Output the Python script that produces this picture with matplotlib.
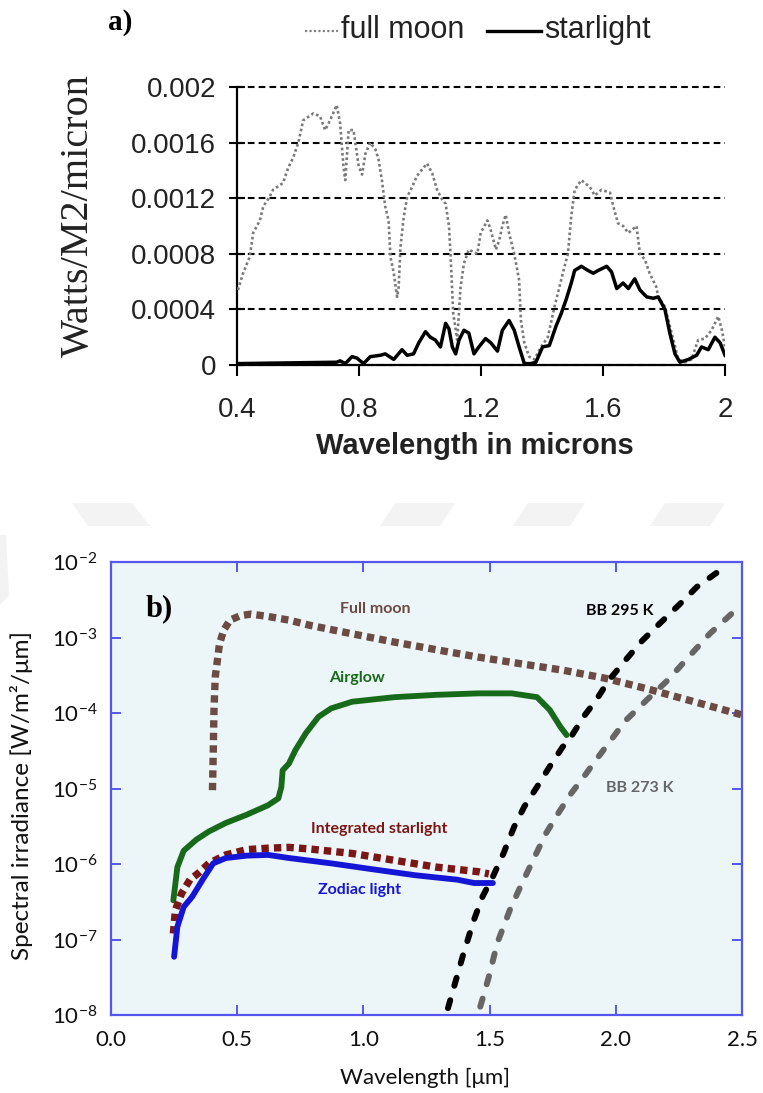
import matplotlib
matplotlib.use("Agg")
import matplotlib.pyplot as plt
from matplotlib.lines import Line2D
from matplotlib.patches import Polygon
from matplotlib.ticker import NullLocator, FixedLocator, FixedFormatter
import numpy as np

# ---------------- data: panel a ----------------
moon_a_x = [0.403, 0.42, 0.442, 0.453, 0.475, 0.486, 0.507, 0.518, 0.551, 0.568, 0.584, 0.601, 0.617,
            0.65, 0.672, 0.689, 0.705, 0.727, 0.738, 0.749, 0.755, 0.766, 0.782, 0.799, 0.81, 0.821,
            0.837, 0.854, 0.864, 0.875, 0.886, 0.897, 0.903, 0.914, 0.925, 0.93, 0.936, 0.947, 0.958,
            0.974, 0.99, 1.023, 1.04, 1.056, 1.073, 1.084, 1.095, 1.1, 1.109, 1.122, 1.133, 1.144,
            1.16, 1.188, 1.199, 1.221, 1.232, 1.249, 1.26, 1.27, 1.281, 1.292, 1.309, 1.325, 1.331,
            1.342, 1.358, 1.375, 1.397, 1.419, 1.441, 1.457, 1.474, 1.485, 1.496, 1.507, 1.529, 1.557,
            1.573, 1.595, 1.623, 1.634, 1.649, 1.666, 1.683, 1.71, 1.721, 1.737, 1.753, 1.775, 1.781,
            1.803, 1.825, 1.847, 1.869, 1.89, 1.912, 1.934, 1.956, 1.978, 1.99, 2.0]
moon_a_y = [0.00054, 0.00066, 0.00078, 0.00095, 0.00104, 0.00114, 0.00121, 0.00126, 0.00131, 0.00142,
            0.00149, 0.0016, 0.00176, 0.00181, 0.00179, 0.00169, 0.00176, 0.00187, 0.00174, 0.00143,
            0.00133, 0.00169, 0.00169, 0.00143, 0.00137, 0.00152, 0.0016, 0.00155, 0.00148, 0.00133,
            0.00114, 0.00104, 0.00078, 0.00066, 0.00049, 0.00056, 0.00085, 0.00107, 0.00121, 0.00128,
            0.00136, 0.00145, 0.00138, 0.00126, 0.00119, 0.00116, 0.0010, 0.0008, 0.00037, 0.00018,
            0.00056, 0.00073, 0.00083, 0.0008, 0.00095, 0.00104, 0.00097, 0.00083, 0.0009, 0.0010,
            0.00108, 0.00095, 0.0008, 0.00061, 0.00032, 0.00016, 0.00006, 0.00004, 0.00013, 0.0002,
            0.00042, 0.00056, 0.00071, 0.0008, 0.00107, 0.00126, 0.00133, 0.00128, 0.00122, 0.00126,
            0.00124, 0.00114, 0.00102, 0.0010, 0.00095, 0.0010, 0.0008, 0.00076, 0.00066, 0.00056,
            0.00049, 0.00042, 0.00023, 0.00004, 0.00002, 0.00004, 0.00018, 0.00019, 0.00025, 0.00035,
            0.00025, 0.00013]

star_a_x = [0.4, 0.727, 0.738, 0.755, 0.777, 0.793, 0.815, 0.837, 0.87, 0.886, 0.914, 0.941, 0.958,
            0.979, 0.996, 1.018, 1.034, 1.05, 1.067, 1.084, 1.095, 1.106, 1.117, 1.128, 1.144, 1.16,
            1.177, 1.193, 1.215, 1.232, 1.254, 1.27, 1.292, 1.309, 1.325, 1.342, 1.364, 1.38, 1.402,
            1.424, 1.446, 1.463, 1.479, 1.496, 1.507, 1.529, 1.551, 1.568, 1.584, 1.612, 1.628, 1.645,
            1.666, 1.683, 1.704, 1.721, 1.743, 1.765, 1.781, 1.803, 1.819, 1.836, 1.852, 1.88, 1.907,
            1.923, 1.945, 1.967, 1.984, 2.0]
star_a_y = [0.00001, 0.00002, 0.00003, 0.00001, 0.00006, 0.00005, 0.00001, 0.00006, 0.00007, 0.00008,
            0.00004, 0.00011, 0.00007, 0.00008, 0.00016, 0.00024, 0.0002, 0.00018, 0.00013, 0.0003,
            0.00026, 0.00013, 0.00008, 0.00018, 0.00025, 0.00023, 0.00008, 0.00013, 0.00019, 0.00016,
            0.0001, 0.00025, 0.00032, 0.00025, 0.00013, 0.00001, 0.00001, 0.00002, 0.00013, 0.00014,
            0.00028, 0.00037, 0.00047, 0.00059, 0.00068, 0.00071, 0.00068, 0.00066, 0.00068, 0.00071,
            0.00067, 0.00055, 0.00059, 0.00055, 0.00062, 0.00054, 0.00049, 0.00048, 0.00049, 0.0004,
            0.00023, 0.00008, 0.00002, 0.00004, 0.00007, 0.00013, 0.00011, 0.0002, 0.00016, 0.00007]

a_xticks = [0.4, 0.8, 1.2, 1.6, 2.0]
a_xticklabels = ["0.4", "0.8", "1.2", "1.6", "2"]
a_yticks = [0, 0.0004, 0.0008, 0.0012, 0.0016, 0.002]
a_yticklabels = ["0", "0.0004", "0.0008", "0.0012", "0.0016", "0.002"]

# ---------------- data: panel b ----------------
moon_b_x = [0.402, 0.405, 0.408, 0.413, 0.43, 0.447, 0.472, 0.513, 0.555, 0.622, 0.705, 0.788, 0.955,
            1.122, 1.288, 1.455, 1.622, 1.788, 1.955, 2.122, 2.288, 2.497]
moon_b_y = [9.5e-6, 2.9e-5, 1.1e-4, 3.0e-4, 8.3e-4, 1.26e-3, 1.7e-3, 1.95e-3, 2.04e-3, 1.9e-3, 1.7e-3,
            1.45e-3, 1.12e-3, 8.7e-4, 6.9e-4, 5.5e-4, 4.5e-4, 3.7e-4, 2.9e-4, 2.1e-4, 1.48e-4, 9.5e-5]

airglow_x = [0.247, 0.263, 0.288, 0.338, 0.388, 0.455, 0.538, 0.622, 0.663, 0.675, 0.68, 0.705, 0.73,
             0.772, 0.822, 0.872, 0.955, 1.122, 1.288, 1.455, 1.588, 1.688, 1.738, 1.78, 1.805]
airglow_y = [3.3e-7, 9.1e-7, 1.5e-6, 2.1e-6, 2.7e-6, 3.5e-6, 4.5e-6, 6.0e-6, 7.4e-6, 1.05e-5, 1.74e-5,
             2.14e-5, 3.2e-5, 5.4e-5, 8.9e-5, 1.15e-4, 1.41e-4, 1.62e-4, 1.74e-4, 1.82e-4, 1.82e-4,
             1.62e-4, 1.1e-4, 6.6e-5, 5.1e-5]

istar_x = [0.247, 0.255, 0.28, 0.313, 0.347, 0.388, 0.455, 0.538, 0.622, 0.705, 0.788, 0.955, 1.122,
           1.288, 1.455, 1.497]
istar_y = [1.2e-7, 2.45e-7, 4.1e-7, 6.2e-7, 7.6e-7, 1.02e-6, 1.32e-6, 1.55e-6, 1.62e-6, 1.66e-6,
           1.58e-6, 1.38e-6, 1.12e-6, 9.1e-7, 7.9e-7, 7.4e-7]

zodi_x = [0.25, 0.263, 0.288, 0.322, 0.363, 0.405, 0.455, 0.538, 0.622, 0.705, 0.872, 1.038, 1.205,
          1.372, 1.438, 1.513]
zodi_y = [5.9e-8, 1.48e-7, 2.7e-7, 3.7e-7, 6.2e-7, 1.02e-6, 1.2e-6, 1.29e-6, 1.32e-6, 1.2e-6, 1.02e-6,
          8.5e-7, 7.1e-7, 6.2e-7, 5.6e-7, 5.6e-7]

bb295_x = [1.335, 1.397, 1.438, 1.472, 1.513, 1.555, 1.597, 1.638, 1.688, 1.738, 1.788, 1.822, 1.872,
           1.922, 1.972, 2.038, 2.105, 2.172, 2.255, 2.322, 2.43]
bb295_y = [1.23e-8, 6.6e-8, 1.82e-7, 3.7e-7, 6.8e-7, 1.38e-6, 3.1e-6, 5.8e-6, 1.05e-5, 1.95e-5, 3.5e-5,
           4.8e-5, 8.9e-5, 1.48e-4, 2.7e-4, 5.0e-4, 9.1e-4, 1.51e-3, 2.8e-3, 4.7e-3, 8.5e-3]

bb273_x = [1.463, 1.497, 1.53, 1.58, 1.622, 1.672, 1.722, 1.772, 1.822, 1.872, 1.922, 1.972, 2.038,
           2.122, 2.205, 2.288, 2.372, 2.497]
bb273_y = [1.29e-8, 3.2e-8, 8.9e-8, 2.45e-7, 5.0e-7, 1.12e-6, 2.5e-6, 4.7e-6, 8.5e-6, 1.41e-5, 2.4e-5,
           4.0e-5, 7.9e-5, 1.48e-4, 2.7e-4, 5.5e-4, 1.12e-3, 2.7e-3]

b_xticks = [0.0, 0.5, 1.0, 1.5, 2.0, 2.5]
b_xticklabels = ["0.0", "0.5", "1.0", "1.5", "2.0", "2.5"]
b_yticks = [1e-8, 1e-7, 1e-6, 1e-5, 1e-4, 1e-3, 1e-2]
b_yexps = ["-8", "-7", "-6", "-5", "-4", "-3", "-2"]

# ---------------- figure ----------------
W, H = 763, 1093
fig = plt.figure(figsize=(W / 100, H / 100), dpi=100)
fig.patch.set_facecolor("white")

def fx(px):
    return px / W

def fy(py):
    return 1 - py / H

# faint watermark shapes between the panels
wm = "#f3f3f3"
for poly in [
    [(72, 503), (132, 503), (150, 526), (88, 526)],
    [(395, 503), (455, 503), (440, 526), (380, 526)],
    [(528, 503), (585, 503), (570, 526), (513, 526)],
    [(665, 503), (725, 503), (710, 526), (650, 526)],
    [(0, 535), (6, 535), (9, 595), (0, 605)],
]:
    fig.patches.append(Polygon([(fx(a), fy(b)) for a, b in poly], closed=True,
                               transform=fig.transFigure, facecolor=wm, edgecolor="none", zorder=0))

# ---------------- panel a ----------------
sans_a = "Liberation Sans"
ax1 = fig.add_axes([fx(237), fy(365), (725 - 237) / W, (365 - 87) / H])
ax1.plot(moon_a_x, moon_a_y, color="#7a7a7a", lw=1.9, linestyle=(0, (1, 1)), zorder=3)
ax1.plot(star_a_x, star_a_y, color="black", lw=2.5, zorder=4)
ax1.set_xlim(0.4, 2.0)
ax1.set_ylim(0, 0.002)
ax1.set_xticks(a_xticks)
ax1.set_xticklabels(a_xticklabels, family=sans_a, fontsize=20, color="#222222")
ax1.set_yticks(a_yticks)
ax1.set_yticklabels(a_yticklabels, family=sans_a, fontsize=20, color="#222222")
for s in ["top", "right"]:
    ax1.spines[s].set_visible(False)
for s in ["left", "bottom"]:
    ax1.spines[s].set_linewidth(1.6)
ax1.tick_params(axis="x", direction="out", length=8, width=1.5, pad=15)
ax1.tick_params(axis="y", direction="inout", length=12, width=1.5, pad=9)
ax1.yaxis.grid(True, linestyle=(0, (3.2, 2)), color="black", lw=1.5)
ax1.set_axisbelow(True)
for gl in ax1.get_ygridlines():
    gl.set_clip_on(False)

fig.text(fx(78), fy(216), "Watts/M2/micron", rotation=90, ha="center", va="center",
         family="Liberation Serif", fontsize=29, color="#222222")
fig.text(fx(475), fy(446), "Wavelength in microns", ha="center", va="center",
         family=sans_a, fontsize=21, fontweight="bold", color="#222222")
fig.text(fx(108), fy(22), "a)", ha="left", va="center", family="Liberation Serif",
         fontsize=21, fontweight="bold")

# legend (manual)
fig.lines.append(Line2D([fx(305), fx(338)], [fy(31), fy(31)], transform=fig.transFigure,
                        color="#808080", lw=1.6, linestyle=(0, (1, 1))))
fig.text(fx(341), fy(30), "full moon", ha="left", va="center", family=sans_a, fontsize=22,
         color="#222222")
fig.lines.append(Line2D([fx(487), fx(541)], [fy(31), fy(31)], transform=fig.transFigure,
                        color="black", lw=2.4))
fig.text(fx(544), fy(30), "starlight", ha="left", va="center", family=sans_a, fontsize=22,
         color="#222222")

# ---------------- panel b ----------------
sans_b = "Lato"
plt.rcParams["mathtext.fontset"] = "custom"
plt.rcParams["mathtext.rm"] = sans_b
plt.rcParams["mathtext.default"] = "regular"

blue = "#5656EE"
ax2 = fig.add_axes([fx(111), fy(1015), (742 - 111) / W, (1015 - 562) / H])
ax2.set_facecolor("#ECF5F7")
ax2.set_yscale("log")
ax2.set_xlim(0, 2.5)
ax2.set_ylim(1e-8, 1e-2)

moon_c = "#6B4B43"
ax2.plot(moon_b_x, moon_b_y, color=moon_c, lw=5.3, linestyle=(0, (1, 0.7)),
         solid_capstyle="butt", dash_capstyle="butt", zorder=3)
ax2.plot(airglow_x, airglow_y, color="#176A1A", lw=4.2, solid_capstyle="round", zorder=3)
ax2.plot(istar_x, istar_y, color="#7B1616", lw=5.3, linestyle=(0, (1, 0.7)),
         dash_capstyle="butt", zorder=3)
ax2.plot(zodi_x, zodi_y, color="#1515D6", lw=4.2, solid_capstyle="round", zorder=4)
ax2.plot(bb295_x, bb295_y, color="black", lw=4.3, linestyle=(0, (1.4, 2.5)),
         dash_capstyle="round", zorder=5, clip_on=False)
ax2.plot(bb273_x, bb273_y, color="#666666", lw=4.3, linestyle=(0, (1.4, 2.5)),
         dash_capstyle="round", zorder=4, clip_on=False)

ax2.xaxis.set_major_locator(FixedLocator(b_xticks))
ax2.xaxis.set_major_formatter(FixedFormatter(b_xticklabels))
ax2.yaxis.set_major_locator(FixedLocator(b_yticks))
ax2.yaxis.set_major_formatter(FixedFormatter(["$10^{%s}$" % e for e in b_yexps]))
ax2.yaxis.set_minor_locator(NullLocator())
ax2.xaxis.set_minor_locator(NullLocator())
for s in ax2.spines.values():
    s.set_color(blue)
    s.set_linewidth(1.6)
ax2.tick_params(axis="both", which="major", direction="in", length=7, width=1.4, color=blue,
                top=True, right=True, labelsize=16, labelcolor="#111111")
ax2.tick_params(axis="x", pad=11)
ax2.tick_params(axis="y", pad=10)
for lab in ax2.get_xticklabels() + ax2.get_yticklabels():
    lab.set_family(sans_b)

fig.text(fx(22), fy(796), "Spectral irradiance [W/m²/μm]", rotation=90, ha="center",
         va="center", family=sans_b, fontsize=17.5, color="#111111")
fig.text(fx(425), fy(1078), "Wavelength [μm]", ha="center", va="center", family=sans_b,
         fontsize=16, color="#111111")

ax2.text(0.19, 10 ** -2.62, "b)", ha="center", va="center", family="Liberation Serif",
         fontsize=22, fontweight="bold", color="black")
lab_kw = dict(ha="center", va="center", family=sans_b, fontsize=11.5, fontweight="bold")
ax2.text(1.047, 10 ** -2.62, "Full moon", color=moon_c, **lab_kw)
ax2.text(0.975, 10 ** -3.54, "Airglow", color="#176A1A", **lab_kw)
ax2.text(1.063, 10 ** -5.54, "Integrated starlight", color="#7B1616", **lab_kw)
ax2.text(0.983, 10 ** -6.35, "Zodiac light", color="#1515D6", **lab_kw)
ax2.text(2.017, 10 ** -2.65, "BB 295 K", color="black", **lab_kw)
ax2.text(2.093, 10 ** -4.99, "BB 273 K", color="#666666", **lab_kw)

fig.savefig("out.png", dpi=100)
